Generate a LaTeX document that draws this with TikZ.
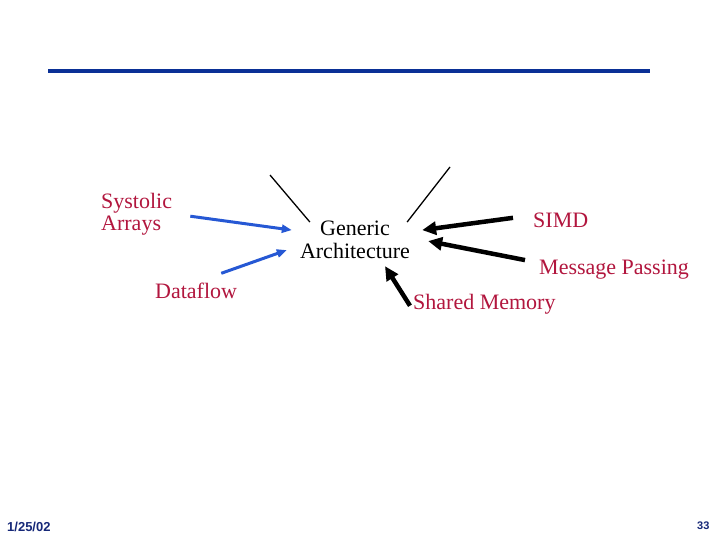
\documentclass[tikz,border=0pt]{standalone}
\usepackage{fontspec}
\setmainfont{Liberation Serif}
\newfontfamily\footfont{Liberation Sans}
\usepackage{xcolor}
\usetikzlibrary{arrows.meta}
\definecolor{topicred}{RGB}{178,22,62}
\definecolor{feedblue}{RGB}{38,88,212}
\definecolor{ruleblue}{RGB}{10,48,150}
\definecolor{footblue}{RGB}{22,40,120}

\begin{document}
\begin{tikzpicture}[
        x=1pt, y=-1pt,
        topic/.style={text=topicred, font=\fontsize{22}{22}\selectfont, inner sep=0pt, align=left},
        hub/.style={font=\fontsize{22}{23}\selectfont, inner sep=0pt, align=center},
        feed/.style={-{Triangle[length=10pt, width=8pt]}, draw=feedblue, line width=3pt},
        heavy/.style={-{Triangle[length=14pt, width=13pt]}, line width=4.5pt},
        spoke/.style={line width=1.3pt},
        foot/.style={text=footblue, font=\footfont\bfseries\fontsize{13}{13}\selectfont, inner sep=0pt, anchor=base west}
    ]
        \useasboundingbox[fill=white] (0,0) rectangle (720,540);
        \draw[ruleblue, line width=4pt] (48,71) -- (650,71);

        \node[hub, anchor=north] (arch) at (355,221) {Generic\\Architecture};
        \node[topic, anchor=north west] (systolic) at (101,193) {Systolic\\Arrays};
        \node[topic, anchor=base west] (dataflow) at (155,298) {Dataflow};
        \node[topic, anchor=base west] (simd) at (533,227) {SIMD};
        \node[topic, anchor=base west] (msgpass) at (539,274) {Message Passing};
        \node[topic, anchor=base west] (shmem) at (413,309) {Shared Memory};
        \coordinate (spokeL) at (270,175);
        \coordinate (spokeR) at (450,167);

        \node[foot] (date) at (7,531) {1/25/02};
        \node[foot, font=\footfont\bfseries\fontsize{11}{11}\selectfont] (page) at (697,529) {33};

        \draw[spoke] (spokeL) -- ([xshift=10pt, yshift=-1pt]arch.north west);
        \draw[spoke] (spokeR) -- ([xshift=-3pt, yshift=-1pt]arch.north east);
        \draw[feed] ([xshift=18pt, yshift=-2pt]systolic.east) -- ([xshift=-8pt, yshift=10pt]arch.west);
        \draw[feed] ([xshift=-16pt, yshift=9pt]dataflow.north east) -- ([xshift=-13pt, yshift=-10pt]arch.west);
        \draw[heavy] ([xshift=-20pt, yshift=2pt]simd.west) -- ([xshift=12pt, yshift=10pt]arch.east);
        \draw[heavy] ([xshift=-14pt, yshift=9pt]msgpass.west) -- ([xshift=18pt, yshift=-1pt]arch.east);
        \draw[heavy] ([xshift=-3pt, yshift=-2pt]shmem.west) -- ([xshift=30pt, yshift=-7pt]arch.south);
    \end{tikzpicture}
\end{document}
